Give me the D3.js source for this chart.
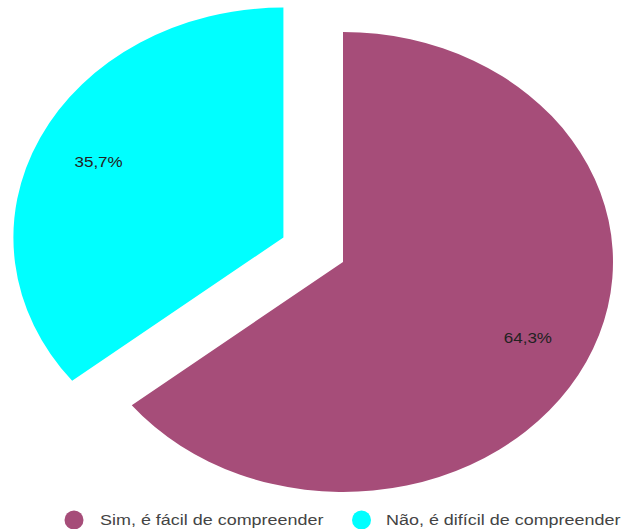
<!DOCTYPE html>
<html>
<head>
<meta charset="utf-8">
<script src="https://cdn.jsdelivr.net/npm/d3@7"></script>
<style>
  html, body { margin: 0; padding: 0; background: #fff; }
  svg { display: block; }
</style>
</head>
<body>
<svg id="chart" width="623" height="529"></svg>
<script>
// Answers and their shares (%)
const categories = ["Sim, é fácil de compreender", "Não, é difícil de compreender"];
const values = [64.3, 35.7];
const valueLabels = ["64,3%", "35,7%"];
const colors = ["#a64d79", "#00ffff"];
const exploded = [0, 0.245];   // fraction of radius each slice is pulled out

const W = 623, H = 529;
const cx = 343, cy = 262;
const rx = 270, ry = 230;
const stretchX = rx / ry;       // the whole chart is drawn wider than tall
const labelR = 0.76;
const font = "Liberation Sans, Arial, sans-serif";

const svg = d3.select("#chart");

const pie = d3.pie().sort(null).value(d => d.value).startAngle(0).endAngle(2 * Math.PI);
const data = categories.map((c, i) => ({ name: c, value: values[i], label: valueLabels[i], color: colors[i], explode: exploded[i] }));
const arcs = pie(data);

const arc = d3.arc().innerRadius(0).outerRadius(rx);

// unit direction of a slice's bisector (0 = up, clockwise)
function dir(a) {
  const m = (a.startAngle + a.endAngle) / 2;
  return [Math.sin(m), -Math.cos(m)];
}

const slices = svg.append("g");
arcs.forEach(a => {
  const [ux, uy] = dir(a);
  const ox = cx + ux * a.data.explode * rx;
  const oy = cy + uy * a.data.explode * ry;
  slices.append("path")
    .attr("d", arc(a))
    .attr("fill", a.data.color)
    .attr("transform", `translate(${ox},${oy}) scale(1,${ry / rx})`);
  const lx = ox + ux * labelR * rx;
  const ly = oy + uy * labelR * ry;
  slices.append("text")
    .attr("transform", `translate(${lx},${ly}) scale(${stretchX},1)`)
    .attr("text-anchor", "middle")
    .attr("dominant-baseline", "central")
    .attr("font-family", font)
    .attr("font-size", 14.5)
    .attr("fill", "#222")
    .text(a.data.label);
});

// Legend
const legendY = 520;
const legendItems = [
  { cxDot: 74, tx: 100 },
  { cxDot: 361.5, tx: 386 }
];
const legend = svg.append("g");
data.forEach((d, i) => {
  legend.append("circle")
    .attr("cx", legendItems[i].cxDot)
    .attr("cy", legendY)
    .attr("r", 9.5)
    .attr("fill", d.color);
  legend.append("text")
    .attr("transform", `translate(${legendItems[i].tx},${legendY}) scale(${stretchX},1)`)
    .attr("dominant-baseline", "central")
    .attr("font-family", font)
    .attr("font-size", 15.3)
    .attr("fill", "#444")
    .text(d.name);
});
</script>
</body>
</html>
